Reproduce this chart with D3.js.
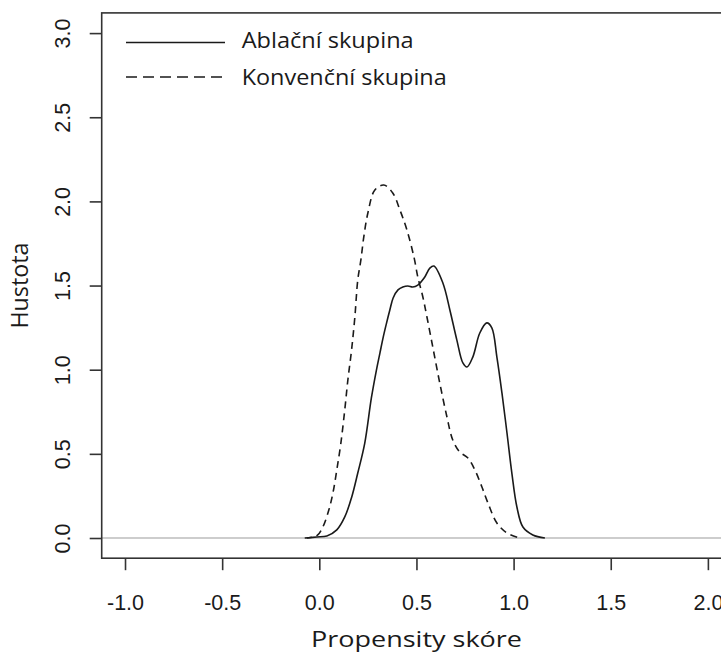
<!DOCTYPE html>
<html>
<head>
<meta charset="utf-8">
<script src="https://cdn.jsdelivr.net/npm/d3@7"></script>
<style>
  html, body { margin: 0; padding: 0; background: #fff; }
  svg { display: block; }
</style>
</head>
<body>
<svg id="chart" width="721" height="656"></svg>
<script>
// ---- data ----
const xTicks = [-1.0, -0.5, 0.0, 0.5, 1.0, 1.5, 2.0];
const yTicks = [0.0, 0.5, 1.0, 1.5, 2.0, 2.5, 3.0];
const seriesNames = ["Ablační skupina", "Konvenční skupina"];

const ablacniX = [-0.064, -0.013, 0.039, 0.090, 0.131, 0.167, 0.198, 0.234, 0.268, 0.294, 0.312, 0.329, 0.346, 0.363, 0.380, 0.405, 0.430, 0.456, 0.481, 0.507, 0.543, 0.569, 0.590, 0.636, 0.672, 0.708, 0.739, 0.760, 0.790, 0.826, 0.862, 0.888, 0.914, 0.940, 0.966, 0.991, 1.017, 1.048, 1.099, 1.161];
const ablacniY = [0.000, 0.006, 0.012, 0.048, 0.125, 0.244, 0.386, 0.564, 0.832, 0.998, 1.099, 1.194, 1.277, 1.355, 1.426, 1.474, 1.491, 1.497, 1.491, 1.503, 1.551, 1.604, 1.616, 1.515, 1.355, 1.176, 1.040, 1.016, 1.075, 1.218, 1.278, 1.248, 1.075, 0.862, 0.624, 0.386, 0.184, 0.065, 0.018, 0.000];

const konvencniX = [-0.075, -0.033, -0.008, 0.018, 0.049, 0.070, 0.090, 0.111, 0.131, 0.147, 0.166, 0.183, 0.198, 0.214, 0.229, 0.250, 0.286, 0.332, 0.378, 0.415, 0.451, 0.487, 0.507, 0.533, 0.554, 0.584, 0.620, 0.657, 0.687, 0.723, 0.765, 0.801, 0.837, 0.868, 0.914, 0.966, 1.032];
const konvencniY = [0.000, 0.006, 0.018, 0.065, 0.166, 0.267, 0.404, 0.564, 0.761, 0.939, 1.117, 1.313, 1.533, 1.652, 1.789, 1.931, 2.068, 2.097, 2.050, 1.949, 1.830, 1.670, 1.551, 1.432, 1.313, 1.135, 0.921, 0.719, 0.582, 0.511, 0.475, 0.404, 0.303, 0.208, 0.089, 0.030, 0.000];

// ---- layout ----
const svg = d3.select("#chart");
const plot = { left: 101.7, right: 731.2, top: 12.9, bottom: 558.2 };
const x = d3.scaleLinear().domain([-1.12, 2.12]).range([plot.left, plot.right]);
const y = d3.scaleLinear().domain([-0.12, 3.12]).range([plot.bottom, plot.top]);
const ink = "#1a1a1a";
const tickFont = "'Liberation Sans', Arial, sans-serif";
const titleFont = "'Open Sans', Lato, sans-serif";

// zero reference line (grey)
svg.append("line")
  .attr("x1", plot.left).attr("x2", plot.right)
  .attr("y1", y(0)).attr("y2", y(0))
  .attr("stroke", "#bdbdbd").attr("stroke-width", 1.5);

// density curves
const line = d3.line()
  .x(d => x(d[0])).y(d => y(d[1]))
  .curve(d3.curveCatmullRom.alpha(0.5));

const ablacni = ablacniX.map((v, i) => [v, ablacniY[i]]);
const konvencni = konvencniX.map((v, i) => [v, konvencniY[i]]);

svg.append("path").datum(konvencni)
  .attr("d", line).attr("fill", "none")
  .attr("stroke", ink).attr("stroke-width", 1.6)
  .attr("stroke-dasharray", "7,5");

svg.append("path").datum(ablacni)
  .attr("d", line).attr("fill", "none")
  .attr("stroke", ink).attr("stroke-width", 1.6);

// box
svg.append("rect")
  .attr("x", plot.left).attr("y", plot.top)
  .attr("width", 740 - plot.left).attr("height", plot.bottom - plot.top)
  .attr("fill", "none").attr("stroke", "#333").attr("stroke-width", 1.6);

// x axis
const gx = svg.append("g")
  .attr("transform", `translate(0,${plot.bottom})`)
  .call(d3.axisBottom(x).tickValues(xTicks).tickSize(12).tickPadding(0)
    .tickFormat(d => d.toFixed(1)));
gx.select(".domain").remove();
gx.selectAll(".tick line").attr("stroke", "#333").attr("stroke-width", 1.6);
gx.selectAll(".tick text")
  .attr("y", 52).attr("dy", 0)
  .attr("fill", ink)
  .style("font-family", tickFont).style("font-size", "21.5px");

// y axis
const gy = svg.append("g")
  .attr("transform", `translate(${plot.left},0)`)
  .call(d3.axisLeft(y).tickValues(yTicks).tickSize(12).tickPadding(0)
    .tickFormat(d => d.toFixed(1)));
gy.select(".domain").remove();
gy.selectAll(".tick line").attr("stroke", "#333").attr("stroke-width", 1.6);
gy.selectAll(".tick text")
  .attr("transform", "rotate(-90)")
  .attr("x", 0).attr("y", -31.7).attr("dy", 0)
  .attr("text-anchor", "middle")
  .attr("fill", ink)
  .style("font-family", tickFont).style("font-size", "21.5px");

// axis titles
svg.append("text")
  .attr("x", 416.5).attr("y", 647)
  .attr("text-anchor", "middle")
  .attr("fill", ink)
  .attr("textLength", 211).attr("lengthAdjust", "spacingAndGlyphs")
  .style("font-family", titleFont).style("font-size", "22.5px")
  .text("Propensity skóre");

svg.append("text")
  .attr("transform", `translate(28,${y(1.5)}) rotate(-90)`)
  .attr("text-anchor", "middle")
  .attr("fill", ink)
  .attr("textLength", 86).attr("lengthAdjust", "spacingAndGlyphs")
  .style("font-family", titleFont).style("font-size", "23px")
  .text("Hustota");

// legend
const legendRows = [
  { name: seriesNames[0], dash: null, ly: 42.5, base: 48.3, w: 172 },
  { name: seriesNames[1], dash: "11,6", ly: 77, base: 85, w: 205 }
];
const lg = svg.append("g");
legendRows.forEach(r => {
  lg.append("line")
    .attr("x1", 126).attr("x2", 225).attr("y1", r.ly).attr("y2", r.ly)
    .attr("stroke", ink).attr("stroke-width", 1.6)
    .attr("stroke-dasharray", r.dash);
  lg.append("text")
    .attr("x", 241.7).attr("y", r.base)
    .attr("fill", ink)
    .attr("textLength", r.w).attr("lengthAdjust", "spacingAndGlyphs")
    .style("font-family", titleFont).style("font-size", "21px")
    .text(r.name);
});
</script>
</body>
</html>
